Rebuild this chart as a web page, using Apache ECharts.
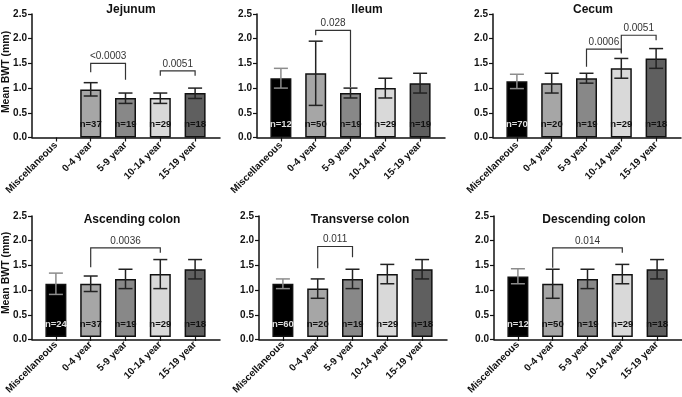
<!DOCTYPE html>
<html>
<head>
<meta charset="utf-8">
<script src="https://cdn.jsdelivr.net/npm/echarts@6/dist/echarts.min.js"></script>
<style>
  html, body { margin: 0; padding: 0; background: #fff; }
  #chart { width: 682px; height: 397px; }
</style>
</head>
<body>
<div id="chart"></div>
<script>
// categories and panels
const categories = ['Miscellaneous', '0-4 year', '5-9 year', '10-14 year', '15-19 year'];
const panelTitles = ['Jejunum', 'Ileum', 'Cecum', 'Ascending colon', 'Transverse colon', 'Descending colon'];

// mean BWT (mm) per panel, null = no bar
const meanBWT = [
  [null, 0.97, 0.8, 0.8, 0.9],
  [1.2, 1.3, 0.9, 1.0, 1.1],
  [1.14, 1.1, 1.2, 1.4, 1.6],
  [1.1, 1.1, 1.2, 1.3, 1.4],
  [1.1, 1.0, 1.2, 1.3, 1.4],
  [1.25, 1.1, 1.2, 1.3, 1.4]
];
const errLow = [
  [null, 0.84, 0.69, 0.69, 0.79],
  [1.0, 0.65, 0.8, 0.8, 0.9],
  [0.99, 0.9, 1.1, 1.2, 1.4],
  [0.88, 0.94, 1.0, 1.0, 1.2],
  [1.0, 0.8, 1.0, 1.1, 1.2],
  [1.1, 0.8, 1.0, 1.1, 1.2]
];
const errHigh = [
  [null, 1.11, 0.9, 0.9, 1.0],
  [1.4, 1.95, 1.0, 1.2, 1.3],
  [1.28, 1.3, 1.3, 1.6, 1.8],
  [1.32, 1.26, 1.4, 1.6, 1.6],
  [1.2, 1.2, 1.4, 1.5, 1.6],
  [1.41, 1.4, 1.4, 1.5, 1.6]
];
const nCounts = [
  [null, 37, 19, 29, 18],
  [12, 50, 19, 29, 19],
  [70, 20, 19, 29, 18],
  [24, 37, 19, 29, 18],
  [60, 20, 19, 29, 18],
  [12, 50, 19, 29, 18]
];
// p-value brackets: [fromCat, toCat, barY, leftLegEnd, rightLegEnd]
const brackets = [
  [[1, 2, 1.5, 1.32, 1.17], [3, 4, 1.35, 1.25, 1.25]],
  [[1, 2, 2.17, 2.07, 1.02]],
  [[2, 3, 1.79, 1.43, 1.70], [3, 4, 2.07, 1.72, 1.97]],
  [[1, 3, 1.84, 1.44, 1.74]],
  [[1, 2, 1.87, 1.42, 1.65]],
  [[1, 3, 1.84, 1.43, 1.74]]
];
const pLabels = [
  ['<0.0003', '0.0051'],
  ['0.028'],
  ['0.0006', '0.0051'],
  ['0.0036'],
  ['0.011'],
  ['0.014']
];

const barColors = ['#000000', '#a6a6a6', '#888888', '#d9d9d9', '#5f5f5f'];
const nColors = ['#dddddd', '#111111', '#111111', '#111111', '#111111'];
const FONT = 'Arial, "Liberation Sans", Helvetica, sans-serif';

// layout
const axisX = [32, 257, 493, 32, 259, 494];
const rowTop = [14, 14, 14, 216, 216, 216];
const titleX = [126, 362, 588, 127, 355, 589];
const titleTop = [-1, -1, -1, 209, 209, 209];
const PLOT_H = 123.5;

const chart = echarts.init(document.getElementById('chart'), null, { renderer: 'canvas' });

const grids = [], xAxes = [], yAxes = [], series = [], titles = [];
for (let p = 0; p < 6; p++) {
  // frame grid: axis lines + y labels; data grid: bars, inset from the y axis
  const gf = grids.length;
  grids.push({ left: axisX[p], top: rowTop[p], width: 188, height: PLOT_H });
  const gd = grids.length;
  grids.push({ left: axisX[p] + 6.5, top: rowTop[p], width: 174, height: PLOT_H });

  titles.push({
    text: panelTitles[p], left: titleX[p], top: titleTop[p], textAlign: 'center',
    textStyle: { fontFamily: FONT, fontSize: 12, fontWeight: 'bold', color: '#111' }
  });

  xAxes.push({
    type: 'value', gridIndex: gf, min: 0, max: 1,
    axisLine: { show: true, lineStyle: { color: '#111', width: 1.5 } },
    axisTick: { show: false }, axisLabel: { show: false }, splitLine: { show: false }
  });
  yAxes.push({
    type: 'value', gridIndex: gf, min: 0, max: 2.5, interval: 0.5,
    axisLine: { show: true, lineStyle: { color: '#111', width: 1.5 } },
    axisTick: { show: true, length: 4, lineStyle: { color: '#111', width: 1.2 } },
    splitLine: { show: false },
    axisLabel: { margin: 5, fontFamily: FONT, fontSize: 10, fontWeight: 'bold', color: '#111',
      formatter: v => v.toFixed(1) }
  });

  const xi = xAxes.length;
  xAxes.push({
    type: 'category', gridIndex: gd, data: categories,
    axisLine: { show: false },
    axisTick: { show: true, alignWithLabel: true, length: 4, lineStyle: { color: '#111', width: 1.2 } },
    axisLabel: { rotate: 45, interval: 0, margin: 6, fontFamily: FONT, fontSize: 10, fontWeight: 'bold', color: '#111' }
  });
  const yi = yAxes.length;
  yAxes.push({ type: 'value', gridIndex: gd, min: 0, max: 2.5, show: false });

  series.push({
    type: 'bar', xAxisIndex: xi, yAxisIndex: yi, barWidth: 21,
    data: meanBWT[p].map((v, i) => ({
      value: v,
      itemStyle: { color: barColors[i], borderColor: '#111', borderWidth: 1.5 },
      label: { color: nColors[i] }
    })),
    label: {
      show: true, position: 'insideBottom', distance: 8,
      fontFamily: FONT, fontSize: 9.5, fontWeight: 'bold',
      formatter: prm => nCounts[p][prm.dataIndex] == null ? '' : 'n=' + nCounts[p][prm.dataIndex]
    },
    silent: true, z: 2
  });

  // error bars
  series.push({
    type: 'custom', xAxisIndex: xi, yAxisIndex: yi, z: 3, silent: true,
    data: meanBWT[p].map((v, i) => v == null ? null : [i, errLow[p][i], errHigh[p][i]]).filter(d => d),
    encode: { x: 0, y: [1, 2] },
    renderItem: (params, api) => {
      const lo = api.coord([api.value(0), api.value(1)]);
      const hi = api.coord([api.value(0), api.value(2)]);
      const half = 7;
      const col = api.value(0) === 0 ? '#8c8c8c' : '#222';
      const st = { stroke: col, lineWidth: 1.5, fill: null };
      return {
        type: 'group',
        children: [
          { type: 'line', shape: { x1: lo[0], y1: lo[1], x2: hi[0], y2: hi[1] }, style: st },
          { type: 'line', shape: { x1: hi[0] - half, y1: hi[1], x2: hi[0] + half, y2: hi[1] }, style: st },
          { type: 'line', shape: { x1: lo[0] - half, y1: lo[1], x2: lo[0] + half, y2: lo[1] }, style: st }
        ]
      };
    }
  });

  // significance brackets
  series.push({
    type: 'custom', xAxisIndex: xi, yAxisIndex: yi, z: 4, silent: true,
    data: brackets[p],
    encode: { x: [0, 1], y: [2, 3, 4] },
    renderItem: (params, api) => {
      const a = api.coord([api.value(0), api.value(2)]);
      const b = api.coord([api.value(1), api.value(2)]);
      const la = api.coord([api.value(0), api.value(3)]);
      const rb = api.coord([api.value(1), api.value(4)]);
      return {
        type: 'group',
        children: [
          { type: 'polyline', shape: { points: [[la[0], la[1]], [a[0], a[1]], [b[0], b[1]], [rb[0], rb[1]]] },
            style: { stroke: '#333', lineWidth: 1.2, fill: null } },
          { type: 'text', x: (a[0] + b[0]) / 2, y: a[1] - 7,
            style: { text: pLabels[p][params.dataIndex], textAlign: 'center', textVerticalAlign: 'middle',
              font: '10px ' + FONT, fill: '#333' } }
        ]
      };
    }
  });
}

chart.setOption({
  backgroundColor: '#fff',
  animation: false,
  title: titles,
  grid: grids,
  xAxis: xAxes,
  yAxis: yAxes,
  series: series,
  graphic: [
    { type: 'text', x: 6, y: 72, rotation: Math.PI / 2,
      style: { text: 'Mean BWT (mm)', textAlign: 'center', textVerticalAlign: 'middle',
        font: 'bold 10.5px ' + FONT, fill: '#111' } },
    { type: 'text', x: 6, y: 273, rotation: Math.PI / 2,
      style: { text: 'Mean BWT (mm)', textAlign: 'center', textVerticalAlign: 'middle',
        font: 'bold 10.5px ' + FONT, fill: '#111' } }
  ]
});
</script>
</body>
</html>
